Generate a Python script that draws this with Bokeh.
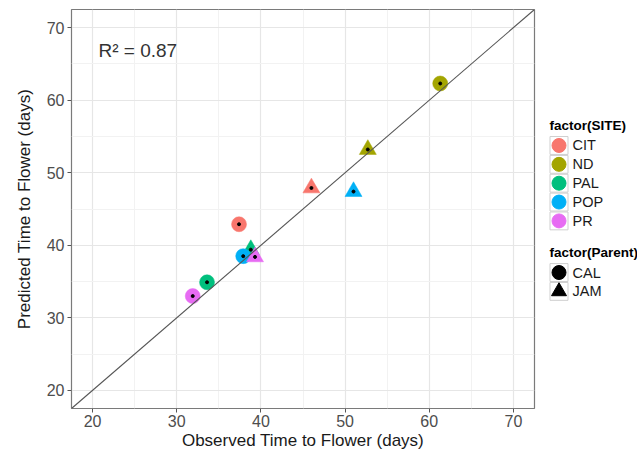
from bokeh.plotting import figure
from bokeh.layouts import row
from bokeh.models import (Range1d, FixedTicker, Slope, ColumnDataSource, Label)
from bokeh.core.properties import value
from bokeh.embed import file_html
from bokeh.resources import INLINE

# Observed vs predicted flowering time per site and parent
sites = ["CIT", "CIT", "ND", "ND", "PAL", "PAL", "POP", "POP", "PR", "PR"]
parents = ["CAL", "JAM", "CAL", "JAM", "CAL", "JAM", "CAL", "JAM", "CAL", "JAM"]
observed = [37.4, 46.0, 61.3, 52.7, 33.6, 38.8, 37.9, 51.0, 31.9, 39.3]
predicted = [42.9, 47.9, 62.3, 53.2, 34.9, 39.4, 38.5, 47.4, 33.0, 38.4]

site_levels = ["CIT", "ND", "PAL", "POP", "PR"]
site_colors = ["#F8766D", "#A3A500", "#00BF7D", "#00B0F6", "#E76BF3"]
parent_levels = ["CAL", "JAM"]
parent_markers = ["circle", "triangle"]

ticks = [20, 30, 40, 50, 60, 70]
minor = [25, 35, 45, 55, 65]
r2_text = "R\u00b2 = 0.87"

FONT = "Liberation Sans"
TOP, BOTTOM = 9, 41

p = figure(width=540, height=452, output_backend="svg", toolbar_location=None,
           x_range=Range1d(17.5, 72.5), y_range=Range1d(17.5, 72.5),
           min_border_left=71, min_border_right=6, min_border_top=TOP,
           min_border_bottom=BOTTOM)
p.background_fill_color = "white"
p.border_fill_color = "white"
p.outline_line_color = "#7a7a7a"
p.outline_line_width = 1.2

for ax in (p.xaxis, p.yaxis):
    ax.ticker = FixedTicker(ticks=ticks, minor_ticks=minor)
    ax.axis_line_color = None
    ax.major_tick_line_color = "#555555"
    ax.major_tick_out = 4
    ax.major_tick_in = 0
    ax.minor_tick_line_color = None
    ax.major_label_text_font = FONT
    ax.major_label_text_font_size = "16px"
    ax.major_label_text_color = "#4d4d4d"
    ax.axis_label_text_font = FONT
    ax.axis_label_text_font_size = "17px"
    ax.axis_label_text_font_style = "normal"
    ax.axis_label_text_color = "#1a1a1a"

p.xaxis.axis_label = "Observed Time to Flower (days)"
p.yaxis.axis_label = "Predicted Time to Flower (days)"
p.xaxis.major_label_standoff = 2
p.xaxis.axis_label_standoff = 1
p.yaxis.major_label_standoff = 3
p.yaxis.axis_label_standoff = 10

for g in (p.xgrid, p.ygrid):
    g.ticker = FixedTicker(ticks=ticks, minor_ticks=minor)
    g.grid_line_color = "#e6e6e6"
    g.grid_line_width = 1.2
    g.minor_grid_line_color = "#f2f2f2"
    g.minor_grid_line_width = 1

# 1:1 reference line
p.add_layout(Slope(gradient=1, y_intercept=0, line_color="#555555", line_width=1.1))

for lvl, col in zip(site_levels, site_colors):
    for par, mk in zip(parent_levels, parent_markers):
        xs = [o for o, s, q in zip(observed, sites, parents) if s == lvl and q == par]
        ys = [v for v, s, q in zip(predicted, sites, parents) if s == lvl and q == par]
        src = ColumnDataSource(dict(x=xs, y=ys))
        p.scatter("x", "y", source=src, marker=mk, size=15 if mk == "circle" else 17,
                  fill_color=col, line_color=col, line_width=0.5)

# centre dots
p.scatter(observed, predicted, size=3, color="black")

p.add_layout(Label(x=20.7, y=66.8, text=r2_text, text_font=FONT,
                   text_font_size="19px", text_color="#333333",
                   text_baseline="middle", text_align="left"))

# legend panel: a bare figure in pixel units (y grows downwards); its frame
# shares the vertical borders of the main plot
LW, LH = 97, 452
lp = figure(width=LW, height=LH, output_backend="svg", toolbar_location=None,
            x_range=Range1d(0, LW), y_range=Range1d(LH - BOTTOM, TOP),
            min_border=0, min_border_left=0, min_border_right=0,
            min_border_top=TOP, min_border_bottom=BOTTOM)
lp.axis.visible = False
lp.grid.visible = False
lp.outline_line_color = None
lp.background_fill_color = "white"
lp.border_fill_color = "white"

KEY = 19          # key box size
KEY_X = 18.5      # key centre
LABEL_X = 32
TITLE_X = 9


def draw_guide(title, labels, colors, markers, sizes, title_y):
    lp.text(x=[TITLE_X], y=[title_y], text=[title], text_font=value(FONT),
            text_font_style="bold", text_font_size="13.5px", text_color="#000000",
            text_baseline="middle", text_align="left")
    ys = [title_y + 20 + i * KEY for i in range(len(labels))]
    xs = [KEY_X] * len(labels)
    lp.rect(xs, ys, width=KEY - 1, height=KEY - 1, fill_color="white",
            line_color="#cfcfcf", line_width=1)
    lp.scatter(xs, ys, marker=markers, size=sizes, fill_color=colors,
               line_color=colors)
    lp.text(x=[LABEL_X] * len(labels), y=ys, text=labels, text_font=value(FONT),
            text_font_size="14.5px", text_color="#1a1a1a",
            text_baseline="middle", text_align="left")


draw_guide("factor(SITE)", site_levels, site_colors,
           ["circle"] * len(site_levels), [14] * len(site_levels), 126)
draw_guide("factor(Parent)", parent_levels, ["black"] * len(parent_levels),
           parent_markers, [14, 15], 254)

open("out.html", "w").write(file_html(row(p, lp), INLINE))
